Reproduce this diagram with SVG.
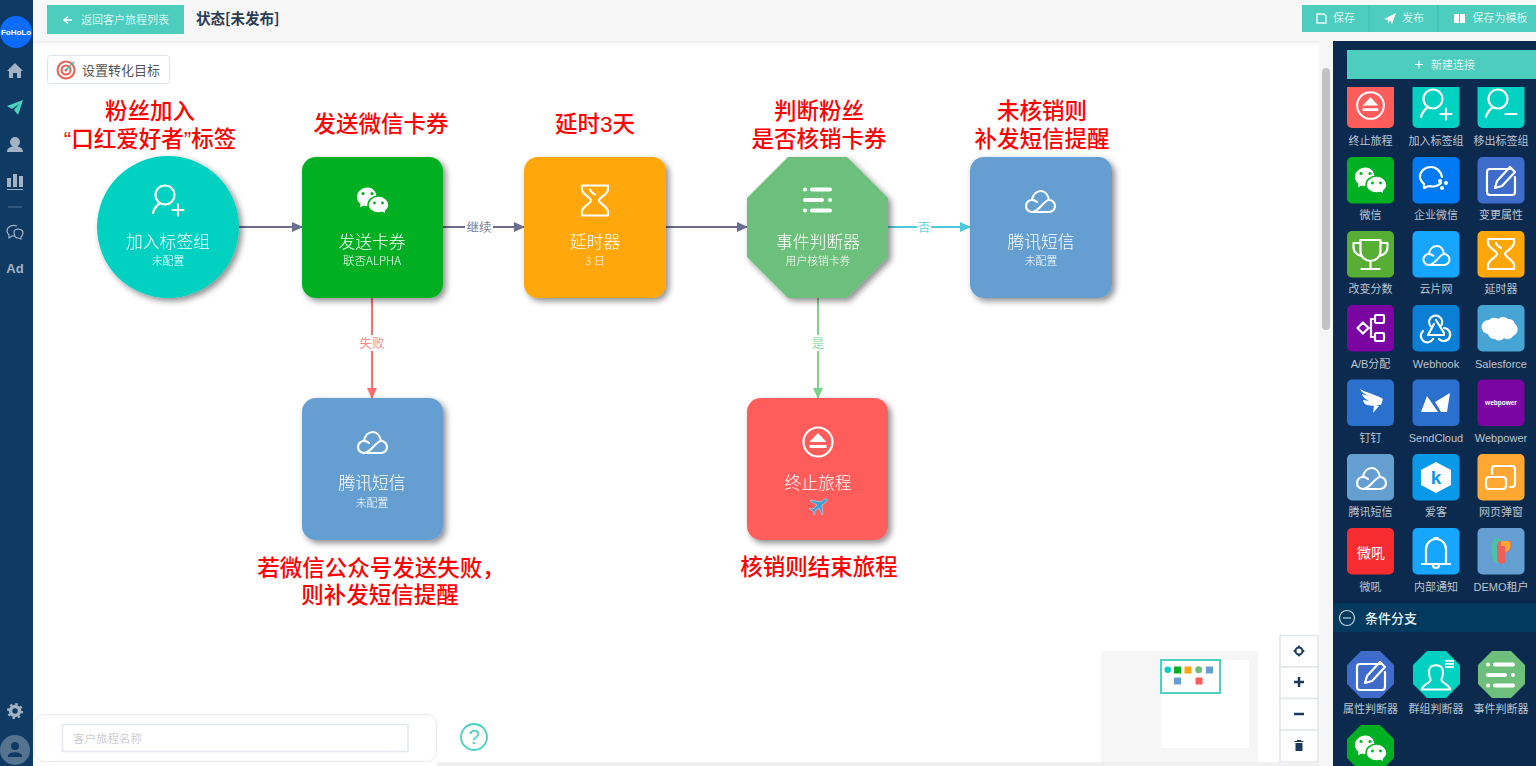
<svg xmlns="http://www.w3.org/2000/svg" width="1536" height="766" viewBox="0 0 1536 766">
<style>
text{font-family:"Noto Sans CJK SC","Noto Sans",sans-serif}
.h{font-family:"Liberation Sans","Noto Sans CJK SC",sans-serif;font-size:22.5px;font-weight:500;fill:#f00;text-anchor:middle}
.t{font-size:16.8px;font-weight:300;fill:#fff;text-anchor:middle}
.s{font-size:10.8px;font-weight:300;fill:#fff;text-anchor:middle}
.p{font-family:"Liberation Sans","Noto Sans CJK SC",sans-serif;font-size:11px;fill:#bcc6d2;text-anchor:middle}
.b{font-size:11px;fill:#d9f5f1;text-anchor:middle}
.l{font-size:12.5px;text-anchor:middle}
.ln{fill:none;stroke-width:2}
.w{fill:none;stroke:#fff;stroke-width:2.2;stroke-linecap:round;stroke-linejoin:round}
.f{fill:#fff}
.nav{fill:#a3b3c4}
.ctl{fill:#fff;stroke:#e1e5ec;stroke-width:1.5}
.mini{stroke:none}
</style>
<defs>
<filter id="sh" x="-20%" y="-20%" width="150%" height="150%"><feDropShadow dx="3" dy="3" stdDeviation="3" flood-color="#000" flood-opacity=".45"/></filter>
<filter id="bar" x="-5%" y="-50%" width="110%" height="200%"><feDropShadow dx="0" dy="1" stdDeviation="2" flood-color="#000" flood-opacity=".12"/></filter>
<marker id="a1" markerWidth="11" markerHeight="10" refX="10" refY="5" orient="auto" markerUnits="userSpaceOnUse"><path d="M0 0L11 5L0 10Z" fill="#6b6e8e"/></marker>
<marker id="a2" markerWidth="11" markerHeight="10" refX="10" refY="5" orient="auto" markerUnits="userSpaceOnUse"><path d="M0 0L11 5L0 10Z" fill="#4dc8dc"/></marker>
<marker id="a3" markerWidth="11" markerHeight="10" refX="10" refY="5" orient="auto" markerUnits="userSpaceOnUse"><path d="M0 0L11 5L0 10Z" fill="#ff6b6b"/></marker>
<marker id="a4" markerWidth="11" markerHeight="10" refX="10" refY="5" orient="auto" markerUnits="userSpaceOnUse"><path d="M0 0L11 5L0 10Z" fill="#7ad388"/></marker>
<clipPath id="pc"><rect x="1334" y="87" width="202" height="679"/></clipPath>
<g id="cloud"><path class="w" d="M-8 11H9A6 6 0 0 0 9-1C4-1-1 11-8 11A6 6 0 0 1-8-1C-6-1-4 0-3 1M-8-1C-7-7-3-10 1-10C5-10 8-6 9-1"/></g>
<g id="glass"><path class="w" d="M-13-15H13V-11C13-6 4-3 4 0C4 3 13 6 13 11V15H-13V11C-13 6-4 3-4 0C-4-3-13-6-13-11Z"/><path class="w" d="M-5-11C-4-8-2-7 0-6" stroke-width="1.500"/></g>
<g id="wechat"><path class="f" d="M-4-13C-11-13-15.500-8-15.500-3C-15.500 0-14 2-12 4L-12.500 8L-8 6C-4 7.500 0 7 3 5L5-3C5-8 1-13-4-13Z"/><path class="f" stroke-width="1.500" d="M6.500-4C1-4-4 0-4 5C-4 9.500 1 13 6.500 13C8 13 9 13 10.500 12.500L14 14.500L13.500 11C15.500 9.500 17 7.500 17 5C17 0 12-4 6.500-4Z"/><circle cx="-9" cy="-6.500" r="1.600" stroke="none"/><circle cx="0" cy="-6.500" r="1.600" stroke="none"/><circle cx="2.500" cy="3" r="1.400" stroke="none"/><circle cx="10.500" cy="3" r="1.400" stroke="none"/></g>
<g id="eject"><circle class="w" r="14.500"/><path class="f" d="M0-9L8.500 0H-8.500ZM-8.500 3H8.500V6H-8.500Z"/></g>
<g id="list"><rect class="f" x="-15" y="-12.500" width="4" height="4" rx="2"/><rect class="f" x="-8" y="-12.500" width="22" height="4" rx="2"/><rect class="f" x="-15" y="-2" width="21" height="4" rx="2"/><rect class="f" x="10" y="-2" width="4" height="4" rx="2"/><rect class="f" x="-15" y="8.500" width="4" height="4" rx="2"/><rect class="f" x="-8" y="8.500" width="22" height="4" rx="2"/></g>
<g id="pplus"><circle class="w" cx="-3" cy="-5" r="9.500"/><path class="w" d="M-15 13C-14 9-12 6-8 3"/><path class="w" d="M4.500 10H15.500M10 4.500V15.500"/></g>
<g id="pminus"><circle class="w" cx="-3" cy="-5" r="9.500"/><path class="w" d="M-15 13C-14 9-12 6-8 3"/><path class="w" d="M4.500 10H15.500"/></g>
<g id="edit"><path class="w" d="M9-11H-11A3 3 0 0 0-14-8V12A3 3 0 0 0-11 15H11A3 3 0 0 0 14 12V-3"/><path class="w" d="M-6 8L-4 1L9-13L14-8L1 6Z"/></g>
<g id="trophy"><path class="w" d="M-10-14H10V-3C10 3 5 7 0 7C-5 7-10 3-10-3ZM-10-11H-17V-7C-17-2-13 1-9 2M10-11H17V-7C17-2 13 1 9 2M0 7V14M-9 15H9"/></g>
<g id="ab"><path class="w" d="M-13.500 0L-8-5.500L-2.500 0L-8 5.500ZM-2.500 0H0M4-9H0V9H4"/><rect class="w" x="4" y="-13" width="9" height="8" rx="1"/><rect class="w" x="4" y="5" width="9" height="8" rx="1"/></g>
<g id="hook"><path class="w" stroke-width="3" d="M-5.500-2A6.500 6.500 0 1 1 5.500-3M0-8L8 5M8 0A6.500 6.500 0 1 1 3 11M8 7H-7M-13 3A6.500 6.500 0 1 0-3 11M-8 7L-2-4"/></g>
<g id="sf"><path class="f" d="M-12-8A7 7 0 0 1-3-9A7 7 0 0 1 7-9A7 7 0 0 1 14-4A7 7 0 0 1 12 8A6 6 0 0 1 3 10A6 6 0 0 1-6 11A7 7 0 0 1-13 6A7 7 0 0 1-12-8Z"/></g>
<g id="ding"><path class="f" d="M-11-14C-4-10 6-8 12-4L10 2L5 2L8 3L2 10L3 3L-4 2C-7 1-8-2-8-3L-2-2C-6-4-9-7-9-9L-2-7C-6-9-10-11-11-14Z"/></g>
<g id="sc"><path class="f" d="M-15 9L-9-7L2 9ZM-1-1L14-10L11 9H5Z"/></g>
<g id="bell"><path class="w" d="M-10 12V-3C-10-9-5-13 0-13C5-13 10-9 10-3V12M-14 12H14M-3 13A3 3 0 0 0 3 13M-2-14H2"/></g>
<g id="pop"><path class="w" stroke-width="2.600" d="M-9-4V-9A3 3 0 0 1-6-12H11A3 3 0 0 1 14-9V6A3 3 0 0 1 11 9H9"/><rect class="w" stroke-width="2.600" x="-15" y="-1" width="20" height="12" rx="3"/></g>
<g id="qw"><path class="w" d="M-3-13C-10-13-14-8-14-3C-14 0-12 2-10 4V8L-5 6C-1 7 4 6 7 3M8-3C7-8 3-13-3-13"/><circle class="f" cx="6" cy="1" r="2"/><circle class="f" cx="12" cy="3" r="2"/><circle class="f" cx="8" cy="8" r="2"/></g>
<g id="grp"><path class="w" d="M-6 3C-10-8-7-13 0-13C7-13 10-8 6 3C6 7 14 7 16 14H-16C-14 7-6 7-6 3Z"/><path class="f" d="M10-19h10v2H10ZM10-15.500h10v2H10ZM10-12h10v2H10Z"/></g>
</defs>

<rect width="1536" height="766" fill="#fff"/>

<g id="topbar">
<rect x="0" y="0" width="1536" height="41" fill="#f7f7f7" filter="url(#bar)"/>
<rect x="47" y="5" width="137" height="29" fill="#4ccdbd"/>
<path d="M65 20H72M68 16.500L64 20L68 23.500" fill="none" stroke="#fff" stroke-width="1.500"/>
<text class="b" x="125" y="24">返回客户旅程列表</text>
<text x="196" y="24" font-size="14.500" font-weight="700" fill="#2a3b55">状态[未发布]</text>
<rect x="1302" y="5" width="234" height="27" fill="#4ccdbd"/>
<path d="M1369 5V32M1438 5V32" stroke="#42bfaf"/>
<path d="M1317 14H1324L1326 16V23H1317Z" fill="none" stroke="#e6faf7" stroke-width="1.500"/>
<text class="b" x="1344" y="22">保存</text>
<path d="M1384 19L1396 13L1392 24L1390 20L1388 24V20Z" fill="#fff"/>
<text class="b" x="1413" y="22">发布</text>
<path d="M1454 14H1459V23H1454ZM1460 14H1465V23H1460Z" fill="#fff"/>
<text class="b" x="1500" y="22">保存为模板</text>
</g>

<g id="sidenav">
<rect x="0" y="0" width="33" height="766" fill="#0f3a63"/>
<circle cx="16" cy="32" r="16" fill="#0b6cff"/>
<text x="16" y="35" font-size="8" font-weight="700" fill="#fff" text-anchor="middle" style="font-family:'Liberation Sans',sans-serif">FoHoLo</text>
<path class="nav" d="M15 63L23 71H21V78H17V73H13V78H9V71H7Z"/>
<path d="M7 106L23 100L18 115L14 110L19 104L12 109Z" fill="#48d2bf"/>
<circle class="nav" cx="15" cy="142" r="5"/><path class="nav" d="M7 152C7 147 12 147 13 146H17C18 147 23 147 23 152Z"/>
<path class="nav" d="M7 178H11V187H7ZM13 174H17V187H13ZM19 176H23V187H19ZM7 189H23V190H7Z"/>
<path d="M8 207H22" stroke="#54718e"/>
<path d="M17 226C12 224 7 227 7 231C7 233 8 234 9 235V238L12 236C13 236 14 236 15 236M14 232C14 228 23 228 23 233C23 235 22 236 21 237V239L18 238C15 238 14 235 14 232Z" fill="none" stroke="#a3b3c4" stroke-width="1.200"/>
<text x="15" y="273" font-size="13" font-weight="700" fill="#a3b3c4" text-anchor="middle" style="font-family:'Liberation Sans',sans-serif">Ad</text>
<circle cx="15" cy="711" r="4.500" fill="none" stroke="#a3b3c4" stroke-width="3.500"/>
<circle cx="15" cy="711" r="7" fill="none" stroke="#a3b3c4" stroke-width="2" stroke-dasharray="2.500 3"/>
<circle cx="15" cy="750" r="15" fill="#567390"/>
<circle cx="15" cy="746" r="4" fill="#0f3a63"/><path d="M8 756C8 751 22 751 22 756V757H8Z" fill="#0f3a63"/>
</g>

<g id="convert-goal">
<rect x="47.500" y="55.500" width="122" height="28" rx="3" fill="#fff" stroke="#dde3ea"/>
<circle cx="66" cy="70" r="8.500" fill="none" stroke="#ef5d50" stroke-width="2"/>
<circle cx="66" cy="70" r="4.500" fill="none" stroke="#ef5d50" stroke-width="2"/>
<circle cx="66" cy="70" r="1.500" fill="#ef5d50"/>
<path d="M66 70L74 62" stroke="#3fb89f" stroke-width="1.500"/>
<text x="82" y="75" font-size="13" fill="#555">设置转化目标</text>
</g>

<g id="annotations">
<text class="h"><tspan x="150" y="119">粉丝加入</tspan><tspan x="150" y="147">“口红爱好者”标签</tspan></text>
<text class="h" x="381" y="132">发送微信卡券</text>
<text class="h" x="595" y="132">延时3天</text>
<text class="h"><tspan x="819" y="119">判断粉丝</tspan><tspan x="819" y="147">是否核销卡券</tspan></text>
<text class="h"><tspan x="1042" y="119">未核销则</tspan><tspan x="1042" y="147">补发短信提醒</tspan></text>
<text class="h"><tspan x="381" y="576">若微信公众号发送失败，</tspan><tspan x="380" y="603">则补发短信提醒</tspan></text>
<text class="h" x="819" y="575">核销则结束旅程</text>
</g>

<g id="connectors">
<path class="ln" stroke="#6b6e8e" marker-end="url(#a1)" d="M239 227H302"/>
<path class="ln" stroke="#6b6e8e" marker-end="url(#a1)" d="M443 227H524"/>
<rect x="465" y="219" width="28" height="17" fill="#fff"/>
<text class="l" x="479" y="232" fill="#7d8098">继续</text>
<path class="ln" stroke="#6b6e8e" marker-end="url(#a1)" d="M666 227H747"/>
<path class="ln" stroke="#4dc8dc" marker-end="url(#a2)" d="M888 227H970"/>
<rect x="917" y="219" width="14" height="17" fill="#fff"/>
<text class="l" x="924" y="232" fill="#71d3e3">否</text>
<path class="ln" stroke="#ff6b6b" marker-end="url(#a3)" d="M372 298V398"/>
<rect x="358" y="335" width="28" height="16" fill="#fff"/>
<text class="l" x="372" y="348" fill="#ff8a8a">失败</text>
<path class="ln" stroke="#7ad388" marker-end="url(#a4)" d="M818 298V398"/>
<rect x="811" y="335" width="14" height="16" fill="#fff"/>
<text class="l" x="818" y="348" fill="#97dfa2">是</text>
</g>

<g id="node-tag" filter="url(#sh)">
<circle cx="168" cy="227" r="71" fill="#00d1c1"/>
<use href="#pplus" transform="translate(168,200)"/>
<text class="t" x="168" y="248">加入标签组</text><text class="s" x="168" y="265">未配置</text>
</g>
<g id="node-coupon" filter="url(#sh)">
<rect x="302" y="157" width="141" height="141" rx="14" fill="#00b022"/>
<use href="#wechat" fill="#00b022" stroke="#00b022" transform="translate(372,200)"/>
<text class="t" x="372" y="248">发送卡券</text><text class="s" x="372" y="265" style="font-size:11.600px">联否ALPHA</text>
</g>
<g id="node-delay" filter="url(#sh)">
<rect x="524" y="157" width="142" height="141" rx="14" fill="#ffa708"/>
<use href="#glass" transform="translate(595,200.500)"/>
<text class="t" x="595" y="248">延时器</text><text class="s" x="595" y="265">3 日</text>
</g>
<g id="node-event" filter="url(#sh)">
<path d="M788 157H847L888 198V257L847 298H788L747 257V198Z" fill="#6dbf7b"/>
<use href="#list" transform="translate(818,200)"/>
<text class="t" x="818" y="248">事件判断器</text><text class="s" x="818" y="265">用户核销卡券</text>
</g>
<g id="node-sms1" filter="url(#sh)">
<rect x="970" y="157" width="142" height="141" rx="14" fill="#659fd1"/>
<use href="#cloud" transform="translate(1040,201)"/>
<text class="t" x="1041" y="248">腾讯短信</text><text class="s" x="1041" y="265">未配置</text>
</g>
<g id="node-sms2" filter="url(#sh)">
<rect x="302" y="398" width="141" height="142" rx="14" fill="#659fd1"/>
<use href="#cloud" transform="translate(372,442)"/>
<text class="t" x="372" y="489">腾讯短信</text><text class="s" x="372" y="507">未配置</text>
</g>
<g id="node-end" filter="url(#sh)">
<rect x="747" y="398" width="141" height="142" rx="14" fill="#ff5c5c"/>
<use href="#eject" transform="translate(818,442)"/>
<text class="t" x="818" y="489">终止旅程</text>
<path d="M827 499C825 498 823 500 821 502L811 500L810 501L817 505L813 509L810 508L809 509L813 511L814 515L815 514L815 511L819 508L822 515L823 514L822 505C825 503 828 501 827 499Z" fill="#3a9fd8" stroke="#d8e6ee" stroke-width=".5"/>
</g>

<g id="scrollbar">
<rect x="1319" y="41" width="14" height="725" fill="#f6f6f6"/>
<rect x="1322" y="68" width="8" height="262" rx="4" fill="#c2c2c2"/>
</g>

<g id="panel">
<rect x="1333" y="41" width="203" height="725" fill="#0c2a4d"/>
<rect x="1347" y="50" width="189" height="29" fill="#4ccdbd"/>
<path d="M1415 64.500H1423M1419 60.500V68.500" stroke="#fff"/>
<text class="b" x="1453" y="69">新建连接</text>

<g clip-path="url(#pc)">
<g id="pal-end"><rect x="1347" y="81" width="47" height="47" rx="5" fill="#ff5c5c"/><use href="#eject" transform="translate(1370.500,105.500) scale(.92)"/></g>
<g id="pal-add"><rect x="1412.500" y="81" width="47" height="47" rx="5" fill="#00d1c1"/><use href="#pplus" transform="translate(1436,104)"/></g>
<g id="pal-remove"><rect x="1477.500" y="81" width="47" height="47" rx="5" fill="#00d1c1"/><use href="#pminus" transform="translate(1501,104)"/></g>
</g>
<text class="p" x="1370.500" y="145">终止旅程</text><text class="p" x="1436" y="145">加入标签组</text><text class="p" x="1501" y="145">移出标签组</text>

<rect x="1347" y="157" width="47" height="46.500" rx="5" fill="#00b022"/><use href="#wechat" fill="#00b022" stroke="#00b022" transform="translate(1370,180)"/>
<rect x="1412.500" y="157" width="47" height="46.500" rx="5" fill="#0079f5"/><use href="#qw" transform="translate(1434,180)"/>
<rect x="1477.500" y="157" width="47" height="46.500" rx="5" fill="#3f6bcb"/><use href="#edit" transform="translate(1501,180)"/>
<text class="p" x="1370.500" y="219">微信</text><text class="p" x="1436" y="219">企业微信</text><text class="p" x="1501" y="219">变更属性</text>

<rect x="1347" y="231" width="47" height="46.500" rx="5" fill="#57ae35"/><use href="#trophy" transform="translate(1370.500,254)"/>
<rect x="1412.500" y="231" width="47" height="46.500" rx="5" fill="#16a5ff"/><use href="#cloud" transform="translate(1436,255) scale(.9)"/>
<rect x="1477.500" y="231" width="47" height="46.500" rx="5" fill="#ffa708"/><use href="#glass" transform="translate(1501,254)"/>
<text class="p" x="1370.500" y="293">改变分数</text><text class="p" x="1436" y="293">云片网</text><text class="p" x="1501" y="293">延时器</text>

<rect x="1347" y="305" width="47" height="46.500" rx="5" fill="#7b05a3"/><use href="#ab" transform="translate(1371,328)"/>
<rect x="1412.500" y="305" width="47" height="46.500" rx="5" fill="#0a7fd4"/><use href="#hook" transform="translate(1436,328)"/>
<rect x="1477.500" y="305" width="47" height="46.500" rx="5" fill="#47a5d6"/><use href="#sf" transform="translate(1501,328)"/>
<text class="p" x="1370.500" y="368">A/B分配</text><text class="p" x="1436" y="368">Webhook</text><text class="p" x="1501" y="368">Salesforce</text>

<rect x="1347" y="379.500" width="47" height="46.500" rx="5" fill="#2b70cc"/><use href="#ding" transform="translate(1371,403)"/>
<rect x="1412.500" y="379.500" width="47" height="46.500" rx="5" fill="#2b70cc"/><use href="#sc" transform="translate(1436,403)"/>
<rect x="1477.500" y="379.500" width="47" height="46.500" rx="5" fill="#7b05a3"/><text x="1501" y="405" font-size="6.500" font-weight="700" fill="#fff" text-anchor="middle" style="font-family:'Liberation Sans',sans-serif">webpower</text>
<text class="p" x="1370.500" y="442">钉钉</text><text class="p" x="1436" y="442">SendCloud</text><text class="p" x="1501" y="442">Webpower</text>

<rect x="1347" y="454" width="47" height="46.500" rx="5" fill="#659fd1"/><use href="#cloud" transform="translate(1371,478)"/>
<rect x="1412.500" y="454" width="47" height="46.500" rx="5" fill="#0a98e8"/><path class="f" d="M1436 462L1451 470V485L1436 493L1421 485V470Z"/><text x="1436" y="484" font-size="19" font-weight="700" fill="#0a98e8" text-anchor="middle" style="font-family:'Liberation Sans',sans-serif">k</text>
<rect x="1477.500" y="454" width="47" height="46.500" rx="5" fill="#ffa733"/><use href="#pop" transform="translate(1501,478)"/>
<text class="p" x="1370.500" y="516">腾讯短信</text><text class="p" x="1436" y="516">爱客</text><text class="p" x="1501" y="516">网页弹窗</text>

<rect x="1347" y="528" width="47" height="46.500" rx="5" fill="#f72c30"/><text x="1371" y="558" font-size="14" fill="#fff" text-anchor="middle">微吼</text>
<rect x="1412.500" y="528" width="47" height="46.500" rx="5" fill="#16a5ff"/><use href="#bell" transform="translate(1436,552)"/>
<rect x="1477.500" y="528" width="47" height="46.500" rx="5" fill="#659fd1"/>
<path d="M1496 538C1490 540 1490 560 1496 563H1502V540Z" fill="#4cc0a8"/><path d="M1501 541H1511C1513 548 1509 552 1505 553V562C1503 565 1498 564 1497 560V546C1497 543 1499 541 1501 541Z" fill="#ee5f5b"/><path d="M1501 541H1508C1512 541 1512 551 1505 552V546H1501Z" fill="#ffa733"/>
<text class="p" x="1370.500" y="591">微吼</text><text class="p" x="1436" y="591">内部通知</text><text class="p" x="1501" y="591">DEMO租户</text>

<rect x="1333" y="603.500" width="203" height="28.500" fill="#013a5e"/>
<circle cx="1347" cy="618" r="7.500" fill="none" stroke="#c5d2dd" stroke-width="1.200"/>
<path d="M1343 618H1351" stroke="#c5d2dd" stroke-width="1.200"/>
<text x="1365" y="623" font-size="13" font-weight="500" fill="#e6edf3">条件分支</text>

<path d="M1361 651H1380L1394 665V684L1380 698H1361L1347 684V665Z" fill="#3f6bcb"/><use href="#edit" transform="translate(1371,675)"/>
<path d="M1427 651H1446L1460 665V684L1446 698H1427L1413 684V665Z" fill="#00d1c1"/><use href="#grp" transform="translate(1436,677) scale(.9)"/>
<path d="M1492 651H1511L1525 665V684L1511 698H1492L1478 684V665Z" fill="#6dbf7b"/><use href="#list" transform="translate(1501,675)"/>
<text class="p" x="1370.500" y="713">属性判断器</text><text class="p" x="1436" y="713">群组判断器</text><text class="p" x="1501" y="713">事件判断器</text>
<path d="M1361 725H1380L1394 739V758L1380 772H1361L1347 758V739Z" fill="#00b022"/><use href="#wechat" fill="#00b022" stroke="#00b022" transform="translate(1370,748)"/>
</g>

<g id="minimap">
<rect x="1101" y="651" width="157" height="115" fill="#f6f6f6"/>
<rect x="1161" y="660" width="88" height="88" fill="#fff"/>
<g class="mini">
<circle cx="1167.700" cy="669.700" r="3.200" fill="#00d1c1"/>
<rect x="1174" y="666.500" width="7" height="7" fill="#00b022"/>
<rect x="1184.500" y="666.500" width="7" height="7" fill="#ffa708"/>
<circle cx="1198.700" cy="669.700" r="3.500" fill="#6dbf7b"/>
<rect x="1206" y="666.500" width="7" height="7" fill="#659fd1"/>
<rect x="1174" y="677.500" width="7" height="7" fill="#659fd1"/>
<rect x="1195.500" y="677.500" width="7" height="7" fill="#ff5c5c"/>
</g>
<rect x="1161" y="660" width="59" height="33" fill="none" stroke="#4fd0c0" stroke-width="2"/>
</g>

<g id="zoom-controls">
<rect class="ctl" x="1280" y="635.500" width="38" height="31.500"/>
<rect class="ctl" x="1280" y="667" width="38" height="31.500"/>
<rect class="ctl" x="1280" y="698.500" width="38" height="31.500"/>
<rect class="ctl" x="1280" y="730" width="38" height="32"/>
<circle cx="1299" cy="651" r="3.500" fill="none" stroke="#1b3a5c" stroke-width="2"/>
<path d="M1299 645L1301 648H1297ZM1299 657L1301 654H1297ZM1293 651L1296 649V653ZM1305 651L1302 649V653Z" fill="#1b3a5c"/>
<path d="M1294 682H1304M1299 677V687M1294 714H1304" stroke="#1b3a5c" stroke-width="2.500"/>
<path d="M1295.500 743H1302.500V751H1295.500ZM1294.500 741H1303.500V742H1294.500ZM1297 740H1301V741H1297Z" fill="#1b3a5c"/>
</g>

<g id="name-bar">
<rect x="437" y="762" width="882" height="4" fill="#f0f0f0"/>
<rect x="34.500" y="714.500" width="402" height="47" rx="10" fill="#fff" stroke="#e6e8f0"/>
<rect x="62.500" y="724.500" width="345.500" height="27" fill="#fff" stroke="#e3e8ef" stroke-width="1.500"/>
<text x="73" y="743" font-size="11.500" fill="#cfcfcf">客户旅程名称</text>
<circle cx="474" cy="737" r="13" fill="#fff" stroke="#45d0c0" stroke-width="1.800"/>
<text x="474" y="744" font-size="20" fill="#45d0c0" text-anchor="middle" style="font-family:'Liberation Sans',sans-serif">?</text>
</g>
</svg>
